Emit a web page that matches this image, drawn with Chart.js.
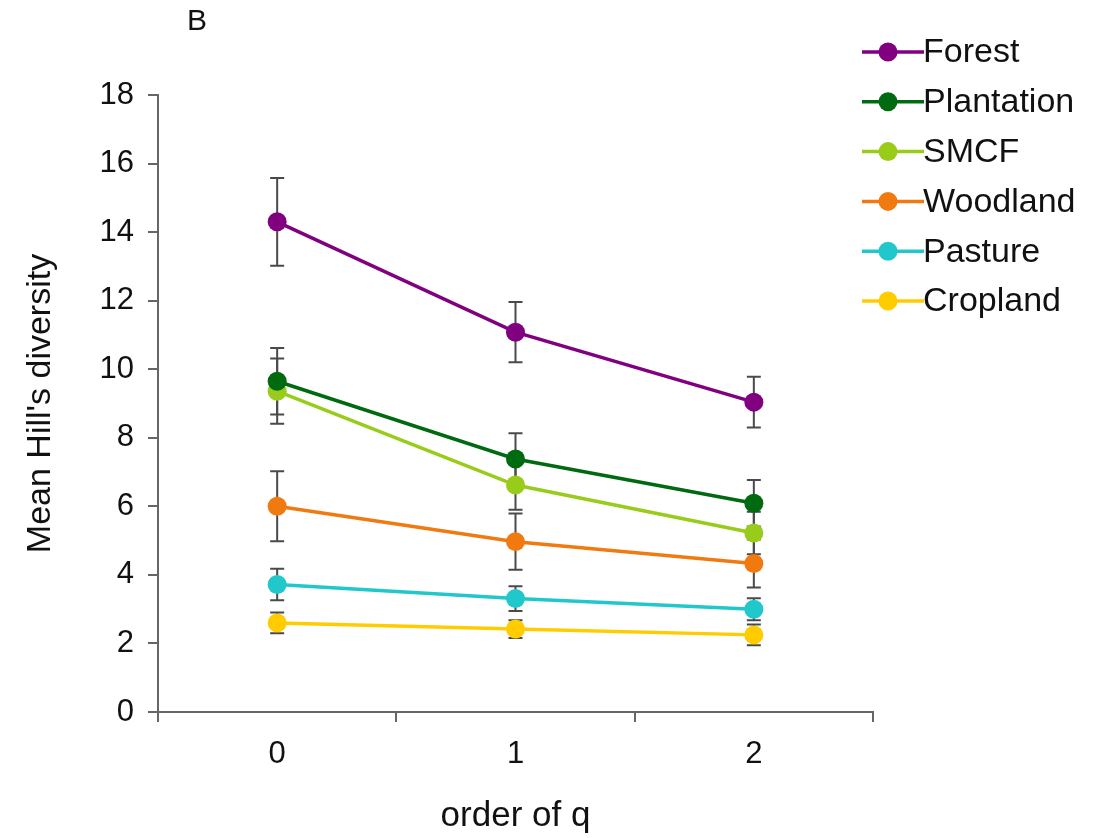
<!DOCTYPE html>
<html>
<head>
<meta charset="utf-8">
<script src="https://cdn.jsdelivr.net/npm/chart.js@4"></script>
<style>
  html, body { margin: 0; padding: 0; background: #fff; }
  #wrap { width: 1106px; height: 838px; position: relative; }
</style>
</head>
<body>
<div id="wrap"><canvas id="hillChart"></canvas></div>
<script>
// order of q
const categories = ['0', '1', '2'];

// series names and colours
const seriesNames = ['Forest', 'Plantation', 'SMCF', 'Woodland', 'Pasture', 'Cropland'];
const seriesColors = ['#800080', '#006a10', '#99cc1a', '#f07a10', '#20c8cc', '#ffcc00'];

// mean Hill's diversity
const forestMean = [14.3, 11.08, 9.04];
const plantationMean = [9.65, 7.38, 6.09];
const smcfMean = [9.36, 6.62, 5.22];
const woodlandMean = [6.0, 4.97, 4.33];
const pastureMean = [3.72, 3.31, 3.0];
const croplandMean = [2.6, 2.42, 2.25];

// error (+/-)
const forestErr = [1.28, 0.88, 0.74];
const plantationErr = [0.97, 0.75, 0.68];
const smcfErr = [0.95, 0.72, 0.62];
const woodlandErr = [1.02, 0.82, 0.7];
const pastureErr = [0.46, 0.36, 0.32];
const croplandErr = [0.3, 0.26, 0.3];

const yTicks = [0, 2, 4, 6, 8, 10, 12, 14, 16, 18];

const means = [forestMean, plantationMean, smcfMean, woodlandMean, pastureMean, croplandMean];
const errors = [forestErr, plantationErr, smcfErr, woodlandErr, pastureErr, croplandErr];

const FONT = '"Liberation Sans", Arial, sans-serif';

// error bars, drawn under the lines and points
const errorBars = {
    id: 'errorBars',
    beforeDatasetsDraw(chart) {
        const ctx = chart.ctx;
        const y = chart.scales.y;
        ctx.save();
        ctx.strokeStyle = '#4a4a4a';
        ctx.lineWidth = 2;
        chart.data.datasets.forEach((ds, i) => {
            const meta = chart.getDatasetMeta(i);
            meta.data.forEach((pt, j) => {
                const top = y.getPixelForValue(ds.data[j] + ds.errors[j]);
                const bot = y.getPixelForValue(ds.data[j] - ds.errors[j]);
                ctx.beginPath();
                ctx.moveTo(pt.x, top); ctx.lineTo(pt.x, bot);
                ctx.moveTo(pt.x - 7, top); ctx.lineTo(pt.x + 7, top);
                ctx.moveTo(pt.x - 7, bot); ctx.lineTo(pt.x + 7, bot);
                ctx.stroke();
            });
        });
        ctx.restore();
    }
};

// legend with line + marker, and the panel letter
const sideLegend = {
    id: 'sideLegend',
    afterDraw(chart) {
        const ctx = chart.ctx;
        ctx.save();
        ctx.font = '34px ' + FONT;
        ctx.textBaseline = 'middle';
        chart.data.datasets.forEach((ds, i) => {
            const yy = 52 + i * 49.8;
            ctx.strokeStyle = ds.borderColor;
            ctx.lineWidth = 3.5;
            ctx.beginPath();
            ctx.moveTo(862, yy); ctx.lineTo(924, yy);
            ctx.stroke();
            ctx.fillStyle = ds.borderColor;
            ctx.beginPath();
            ctx.arc(888, yy, 9.5, 0, Math.PI * 2);
            ctx.fill();
            ctx.fillStyle = '#111';
            ctx.fillText(ds.label, 923, yy + 1);
        });
        ctx.font = '30px ' + FONT;
        ctx.fillText('B', 187, 22);
        ctx.restore();
    }
};

const datasets = seriesNames.map((name, i) => ({
    label: name,
    data: means[i],
    errors: errors[i],
    borderColor: seriesColors[i],
    backgroundColor: seriesColors[i],
    borderWidth: 3.5,
    pointRadius: 9.5,
    pointHoverRadius: 9.5,
    pointBorderWidth: 0,
    tension: 0
}));

new Chart(document.getElementById('hillChart'), {
    type: 'line',
    data: { labels: categories, datasets: datasets },
    options: {
        responsive: true,
        maintainAspectRatio: false,
        animation: false,
        layout: { padding: { top: 95, right: 233, left: 0, bottom: 0 } },
        plugins: {
            legend: { display: false },
            tooltip: { enabled: false }
        },
        scales: {
            x: {
                type: 'category',
                offset: true,
                grid: { offset: true, drawOnChartArea: false, drawTicks: true, tickLength: 10, color: '#666', lineWidth: 2 },
                border: { color: '#666', width: 2 },
                ticks: { color: '#111', font: { family: FONT, size: 31 }, padding: 14 },
                title: { display: true, text: 'order of q', color: '#111', font: { family: FONT, size: 35 }, padding: { top: 0, bottom: 1 } },
                afterFit(scale) { scale.height = 126; }
            },
            y: {
                min: 0,
                max: 18,
                afterBuildTicks(scale) { scale.ticks = yTicks.map(v => ({ value: v })); },
                grid: { drawOnChartArea: false, drawTicks: true, tickLength: 10, color: '#666', lineWidth: 2 },
                border: { color: '#666', width: 2 },
                ticks: { color: '#111', font: { family: FONT, size: 31 }, padding: 14 },
                title: { display: true, text: "Mean Hill's diversity", color: '#111', font: { family: FONT, size: 34 }, padding: { top: 20, bottom: 0 } },
                afterFit(scale) { scale.width = 158; }
            }
        }
    },
    plugins: [errorBars, sideLegend]
});
</script>
</body>
</html>
